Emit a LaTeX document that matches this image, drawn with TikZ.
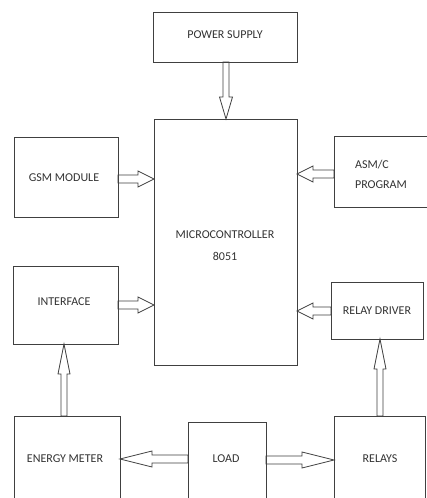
\documentclass[tikz,border=0pt]{standalone}
\usepackage{fontspec}
\setmainfont{Carlito}
\usetikzlibrary{calc}
\tikzset{
  hl/.store in=\hl, sh/.store in=\sh, hw/.store in=\hw,
  hl=16pt, sh=4pt, hw=8pt,
  blk/.style={draw=black!75, line width=0.9pt, fill=white},
  lbl/.style={font=\fontsize{12}{14}\selectfont, text=black!80, align=center},
  hollow/.style={draw=black!75, line width=0.8pt, to path={
    let \p1=(\tikztostart), \p2=(\tikztotarget), \p3=($(\p2)!\hl!(\p1)$) in
    ($(\p1)!\sh!90:(\p2)$) -- ($(\p3)!\sh!-90:(\p1)$) -- ($(\p3)!\hw!-90:(\p1)$)
    -- (\p2) -- ($(\p3)!\hw!90:(\p1)$) -- ($(\p3)!\sh!90:(\p1)$)
    -- ($(\p1)!\sh!-90:(\p2)$) -- cycle}}
}
\begin{document}
\begin{tikzpicture}[x=1pt,y=-1pt]
\useasboundingbox (0,0) rectangle (427,498);
\fill[white] (0,0) rectangle (427,498);
\clip (0,0) rectangle (427,498);
% boxes
\draw[blk] (153,12) rectangle (297,62);
\draw[blk] (154,119) rectangle (297,365);
\draw[blk] (14,137) rectangle (118,217);
\draw[blk] (334,136) rectangle (432,207);
\draw[blk] (13,266) rectangle (118,344);
\draw[blk] (331,282) rectangle (423,339);
\draw[blk] (14,416) rectangle (120,510);
\draw[blk] (188,422) rectangle (266,510);
\draw[blk] (334,416) rectangle (425,510);
% named anchors
\coordinate (ps-s) at (226,62);
\coordinate (mc-n) at (226,119);
\coordinate (gsm-e) at (118,179);
\coordinate (mc-w1) at (154,179);
\coordinate (asm-w) at (334,174);
\coordinate (mc-e1) at (297,174);
\coordinate (if-e) at (118,305);
\coordinate (mc-w2) at (154,305);
\coordinate (rd-w) at (331,311);
\coordinate (mc-e2) at (297,311);
\coordinate (em-n) at (64,416);
\coordinate (if-s) at (64,344);
\coordinate (rl-n) at (380,416);
\coordinate (rd-s) at (380,339);
\coordinate (ld-w) at (188,459);
\coordinate (em-e) at (120,459);
\coordinate (ld-e) at (266,460);
\coordinate (rl-w) at (334,460);
% labels
\node[lbl] (ps) at (225,35) {POWER SUPPLY};
\node[lbl] (mc) at (225,246) {MICROCONTROLLER\\[8pt]8051};
\node[lbl] (gsm) at (64,178) {GSM MODULE};
\node[lbl, align=left] (asm) at (381,174) {ASM/C\\[6pt]PROGRAM};
\node[lbl] (if) at (64,302) {INTERFACE};
\node[lbl] (rd) at (377,311) {RELAY DRIVER};
\node[lbl] (em) at (65,459) {ENERGY METER};
\node[lbl] (ld) at (226,459) {LOAD};
\node[lbl] (rl) at (380,459) {RELAYS};
% arrows
\path[hollow, sh=3pt, hw=6.5pt, hl=22pt] (ps-s) to (mc-n);
\path[hollow] (gsm-e) to (mc-w1);
\path[hollow] (asm-w) to (mc-e1);
\path[hollow] (if-e) to (mc-w2);
\path[hollow] (rd-w) to (mc-e2);
\path[hollow, sh=3pt, hw=6pt, hl=30pt] (em-n) to (if-s);
\path[hollow, sh=3pt, hw=6pt, hl=30pt] (rl-n) to (rd-s);
\path[hollow, sh=4pt, hw=8pt, hl=32pt] (ld-w) to (em-e);
\path[hollow, sh=4pt, hw=8pt, hl=32pt] (ld-e) to (rl-w);
\end{tikzpicture}
\end{document}
